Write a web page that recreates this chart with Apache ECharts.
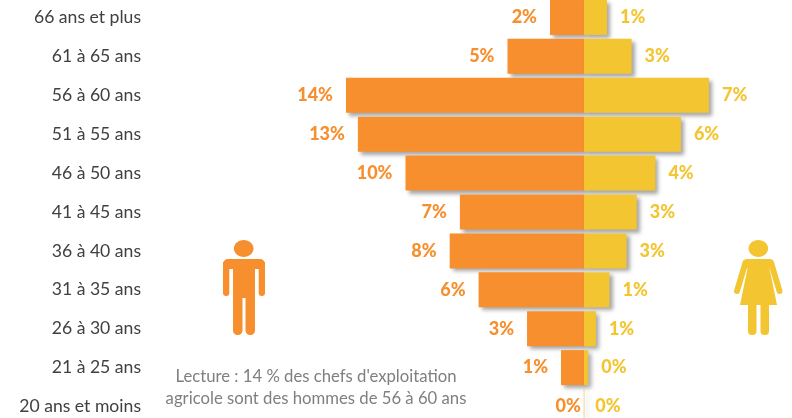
<!DOCTYPE html>
<html><head><meta charset="utf-8">
<style>html,body{margin:0;padding:0;background:#fff}#c{width:792px;height:418px}</style>
<script src="https://cdn.jsdelivr.net/npm/echarts@6/dist/echarts.min.js"></script></head>
<body><div id="c"></div>
<script>
const categories = ['66 ans et plus','61 à 65 ans','56 à 60 ans','51 à 55 ans','46 à 50 ans','41 à 45 ans','36 à 40 ans','31 à 35 ans','26 à 30 ans','21 à 25 ans','20 ans et moins'];
const menValues = [2.0,4.5,14.0,13.3,10.5,7.3,7.9,6.2,3.35,1.35,0.01];
const womenValues = [1.35,2.8,7.35,5.7,4.2,3.1,2.5,1.5,0.7,0.25,0.02];
const menLabels = ['2%','5%','14%','13%','10%','7%','8%','6%','3%','1%','0%'];
const womenLabels = ['1%','3%','7%','6%','4%','3%','3%','1%','1%','0%','0%'];
const noteLines = ["Lecture : 14 % des chefs d'exploitation","agricole sont des hommes de 56 à 60 ans"];
const ORANGE='#F78F2E', YELLOW='#F3C530';
const FONT='Lato, sans-serif';
const shadow={shadowColor:'rgba(0,0,0,0.35)',shadowBlur:4,shadowOffsetX:3,shadowOffsetY:3};
function rr(x,y,w,h,r,fill){return {type:'rect',shape:{x,y,width:w,height:h,r},style:{fill}};}
const man=[
 {type:'ellipse',shape:{cx:243.7,cy:248.5,rx:9.8,ry:8.5},style:{fill:ORANGE}},
 rr(223,259,42,10,[5,5,0,0],ORANGE),
 rr(223,262,6.3,34,[0,0,3,3],ORANGE),
 rr(258.7,262,6.3,34,[0,0,3,3],ORANGE),
 rr(233,262,22,36,0,ORANGE),
 rr(233,290,9.5,45,[0,0,4.5,4.5],ORANGE),
 rr(245.5,290,9.5,45,[0,0,4.5,4.5],ORANGE)
];
const woman=[
 {type:'ellipse',shape:{cx:758.3,cy:248.5,rx:9.8,ry:8.5},style:{fill:YELLOW}},
 {type:'polygon',shape:{points:[[746,259],[771,259],[773,268],[743.5,268]]},style:{fill:YELLOW}},
 {type:'polygon',shape:{points:[[748,266],[769,266],[777,305],[740,305]]},style:{fill:YELLOW}},
 {type:'line',shape:{x1:745.5,y1:262.5,x2:737,y2:291},style:{stroke:YELLOW,lineWidth:6,lineCap:'round'}},
 {type:'line',shape:{x1:771,y1:262.5,x2:779.5,y2:291},style:{stroke:YELLOW,lineWidth:6,lineCap:'round'}},
 rr(748,300,8.5,35,[0,0,4,4],YELLOW),
 rr(760.5,300,8.5,35,[0,0,4,4],YELLOW)
];
const noteStyle={fontFamily:FONT,fontSize:16.7,fill:'#7f7f7f',textAlign:'center',textVerticalAlign:'middle'};
const chart=echarts.init(document.getElementById('c'),null,{renderer:'canvas'});
const lab=(arr,color,pos)=>({show:true,position:pos,distance:13,color,fontFamily:FONT,fontWeight:900,fontSize:18,
  formatter:p=>arr[p.dataIndex]});
const last=categories.length-1;
const barData=(vals,sign,zeroDist)=>vals.map((v,i)=>i===last?{value:sign*v,label:{distance:zeroDist}}:sign*v);
chart.setOption({
 animation:false,
 backgroundColor:'#fff',
 grid:{left:159,width:629,top:-2,height:428,containLabel:false,outerBoundsMode:'none'},
 xAxis:{type:'value',min:-25,max:12,show:false},
 yAxis:{type:'category',inverse:true,data:categories,
   axisLine:{show:false,onZero:false},axisTick:{show:false},splitLine:{show:false},
   axisLabel:{margin:18,color:'#404040',fontFamily:FONT,fontSize:17.6,interval:0}},
 series:[
  {name:'Hommes',type:'bar',stack:'p',barWidth:35,data:barData(menValues,-1,3),
   itemStyle:Object.assign({color:ORANGE},shadow),label:lab(menLabels,ORANGE,'left')},
  {name:'Femmes',type:'bar',stack:'p',barWidth:35,data:barData(womenValues,1,11),
   itemStyle:Object.assign({color:YELLOW},shadow),label:lab(womenLabels,YELLOW,'right')}
 ],
 graphic:[...man,...woman,
  {type:'text',style:Object.assign({x:316,y:377,text:noteLines[0]},noteStyle)},
  {type:'text',style:Object.assign({x:316,y:399,text:noteLines[1]},noteStyle)}
 ]
});
</script></body></html>
